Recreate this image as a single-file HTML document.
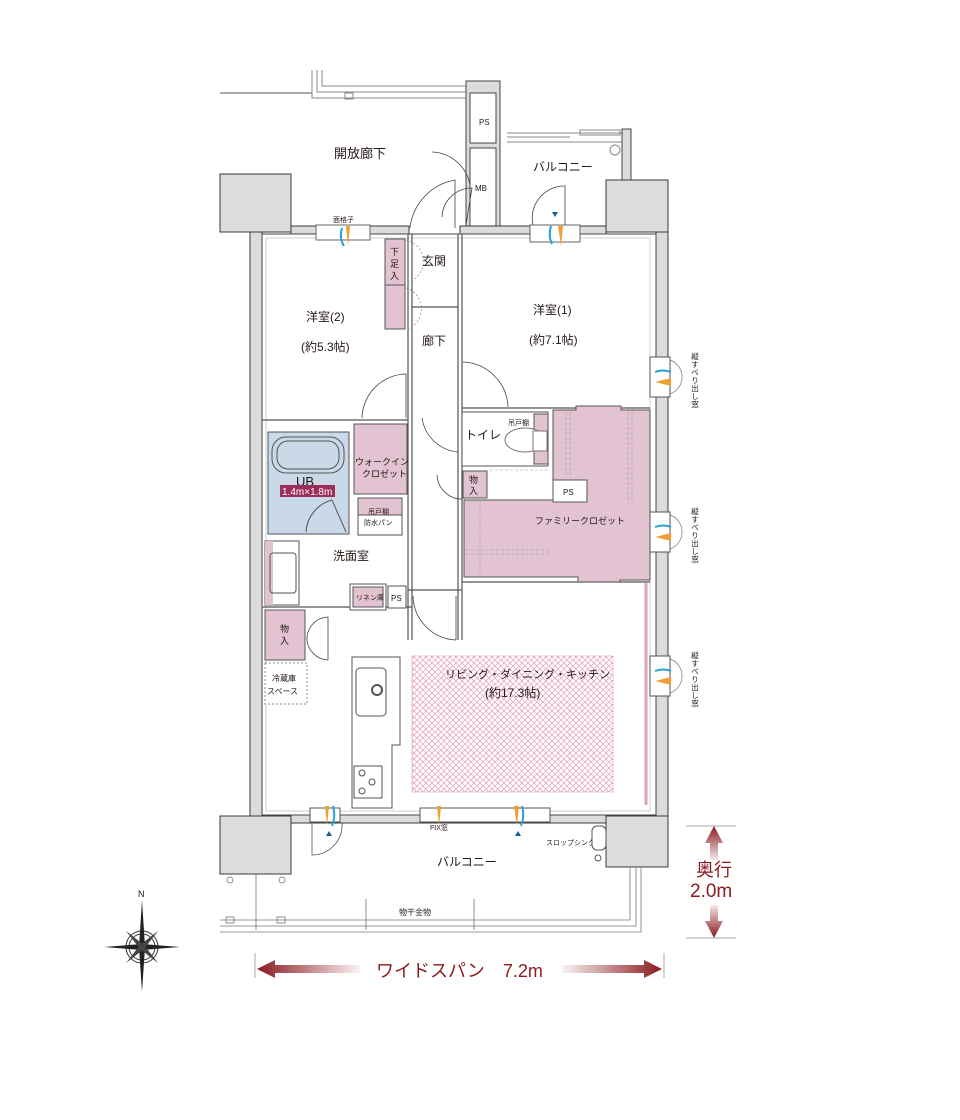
<!DOCTYPE html>
<html><head><meta charset="utf-8"><style>
html,body{margin:0;padding:0;background:#fff}
svg{display:block}
text{font-family:"Liberation Sans","Noto Sans CJK JP",sans-serif;fill:#231815}
</style></head><body>
<svg width="960" height="1120" viewBox="0 0 960 1120" xmlns="http://www.w3.org/2000/svg">
<defs>
<pattern id="hatch" width="6" height="6" patternUnits="userSpaceOnUse">
<rect width="6" height="6" fill="#fff"/>
<path d="M0 3 L3 0 L6 3 L3 6Z" fill="none" stroke="#e6a8bf" stroke-width="0.8"/>
</pattern>
<linearGradient id="gl" x1="0" x2="1"><stop offset="0" stop-color="#8b1a1f"/><stop offset="1" stop-color="#8b1a1f" stop-opacity="0.05"/></linearGradient>
<linearGradient id="gr" x1="1" x2="0"><stop offset="0" stop-color="#8b1a1f"/><stop offset="1" stop-color="#8b1a1f" stop-opacity="0.05"/></linearGradient>
<linearGradient id="gu" x1="0" y1="0" x2="0" y2="1"><stop offset="0" stop-color="#8b1a1f"/><stop offset="1" stop-color="#8b1a1f" stop-opacity="0.1"/></linearGradient>
<linearGradient id="gd" x1="0" y1="1" x2="0" y2="0"><stop offset="0" stop-color="#8b1a1f"/><stop offset="1" stop-color="#8b1a1f" stop-opacity="0.1"/></linearGradient>
</defs>

<g stroke="#888" fill="none" stroke-width="1">
<line x1="220" y1="93" x2="312" y2="93" stroke="#aaa" stroke-width="2"/>
<path d="M312 70 V98 H466"/><path d="M317 70 V92 H466"/><path d="M322 70 V86 H466"/>
<rect x="345" y="93" width="8" height="6"/>
<line x1="467" y1="150" x2="500" y2="150" stroke="#333" stroke-width="3"/>
</g>
<rect x="466" y="81" width="34" height="148" fill="#dcdcdc" stroke="#444"/>
<rect x="470" y="93" width="26" height="50" fill="#fff" stroke="#444"/>
<rect x="470" y="148" width="26" height="78" fill="#fff" stroke="#444"/>
<text x="479" y="125" font-size="8">PS</text>
<text x="475" y="191" font-size="8">MB</text>
<g stroke="#888" fill="none">
<path d="M507 133 H622 M507 137 H570 M507 142 H622"/>
<rect x="580" y="130" width="40" height="5"/>
<circle cx="615" cy="150" r="5"/>
</g>
<rect x="622" y="129" width="9" height="55" fill="#dcdcdc" stroke="#444"/>
<text x="533" y="171" font-size="12">バルコニー</text>
<text x="334" y="158" font-size="13">開放廊下</text>

<g fill="#dcdcdc" stroke="#3a3a3a" stroke-width="1">
<rect x="220" y="174" width="71" height="58"/>
<rect x="250" y="232" width="12" height="584"/>
<rect x="291" y="226" width="118" height="8"/>
<rect x="460" y="226" width="146" height="8"/>
<rect x="606" y="180" width="62" height="52"/>
<rect x="656" y="232" width="12" height="584"/>
<rect x="220" y="816" width="71" height="58"/>
<rect x="291" y="815" width="315" height="8"/>
<rect x="606" y="816" width="62" height="51"/>
</g>
<rect x="262" y="234" width="394" height="581" fill="#fff" stroke="#444"/>
<rect x="266" y="238" width="384" height="573" fill="#fff" stroke="#bbb" stroke-width="0.7"/>

<rect x="316" y="225" width="54" height="15" fill="#fff" stroke="#666"/>
<text x="333" y="222" font-size="7">面格子</text>
<rect x="530" y="225" width="50" height="17" fill="#fff" stroke="#666"/>
<g fill="none" stroke="#444" stroke-width="0.8">
<path d="M410 228 A55 55 0 0 1 455 180 V228"/>
<path d="M442 217 A30 30 0 0 1 472 188 L466 225"/>
<path d="M432 152 A40 40 0 0 1 470 185"/>
<path d="M533 225 A32 32 0 0 1 565 186 V225"/>
</g>

<g stroke="#555" fill="none" stroke-width="1.2">
<line x1="408" y1="234" x2="408" y2="640"/>
<line x1="412" y1="234" x2="412" y2="640"/>
<line x1="458" y1="234" x2="458" y2="640"/>
<line x1="462" y1="234" x2="462" y2="640"/>
<line x1="262" y1="420" x2="408" y2="420"/>
<line x1="462" y1="408" x2="650" y2="408"/>
<line x1="412" y1="307" x2="458" y2="307"/>
<line x1="262" y1="607" x2="412" y2="607"/>
<line x1="462" y1="582" x2="650" y2="582"/>
<line x1="408" y1="590" x2="462" y2="590"/>
</g>
<rect x="385" y="239" width="20" height="90" fill="#e3c3d1" stroke="#555"/>
<line x1="385" y1="285" x2="405" y2="285" stroke="#555"/>
<text x="390" y="255" font-size="9">下</text><text x="390" y="267" font-size="9">足</text><text x="390" y="279" font-size="9">入</text>
<g fill="none" stroke="#888" stroke-dasharray="2,2" stroke-width="0.7">
<path d="M406 240 A22 22 0 0 1 406 283"/><path d="M406 288 A22 22 0 0 1 406 330"/>
</g>
<text x="422" y="265" font-size="12">玄関</text>
<text x="422" y="345" font-size="12">廊下</text>

<text x="306" y="321" font-size="12">洋室(2)</text>
<text x="301" y="351" font-size="12">(約5.3帖)</text>
<text x="533" y="314" font-size="12">洋室(1)</text>
<text x="529" y="344" font-size="12">(約7.1帖)</text>
<g fill="none" stroke="#444" stroke-width="0.8">
<path d="M362 418 A45 45 0 0 1 406 374 V418"/>
<path d="M463 362 A47 47 0 0 1 508 407"/>
<path d="M422 418 A40 40 0 0 0 458 452"/>
<path d="M437 475 A25 25 0 0 0 462 499"/>
<path d="M413 596 A45 45 0 0 0 456 640 V596"/>
<path d="M307 640 A22 22 0 0 1 328 617 V640 M307 640 A22 22 0 0 0 328 660 V640"/>
</g>

<rect x="462" y="412" width="86" height="54" fill="#fff" stroke="#555"/>
<rect x="534" y="414" width="14" height="50" fill="#e3c3d1" stroke="#555"/>
<ellipse cx="525" cy="440" rx="20" ry="12" fill="#fff" stroke="#777"/>
<rect x="533" y="431" width="14" height="20" fill="#fff" stroke="#777"/>
<text x="465" y="439" font-size="12">トイレ</text>
<text x="508" y="425" font-size="7">吊戸棚</text>
<rect x="463" y="471" width="24" height="27" fill="#e3c3d1" stroke="#555"/>
<text x="469" y="483" font-size="9">物</text><text x="469" y="494" font-size="9">入</text>
<path d="M553 410 H576 V406 H621 V410 H650 V500 H650 V580 H620 V582 H578 V577 H464 V500 H553 V478 H553Z" fill="#e3c3d1" stroke="#555"/>
<rect x="553" y="480" width="34" height="22" fill="#fff" stroke="#555"/>
<text x="563" y="495" font-size="8">PS</text>
<g stroke="#999" stroke-dasharray="3,2" stroke-width="0.6" fill="none">
<line x1="566" y1="412" x2="566" y2="477"/><line x1="570" y1="412" x2="570" y2="477"/>
<line x1="628" y1="412" x2="628" y2="500"/><line x1="632" y1="412" x2="632" y2="500"/>
<line x1="466" y1="550" x2="550" y2="550"/><line x1="466" y1="554" x2="550" y2="554"/>
<line x1="490" y1="470" x2="550" y2="470"/>
<line x1="480" y1="500" x2="480" y2="577"/>
</g>
<text x="535" y="524" font-size="9">ファミリークロゼット</text>

<rect x="268" y="432" width="81" height="102" fill="#c9d9e8" stroke="#555"/>
<rect x="272" y="437" width="72" height="36" rx="14" fill="none" stroke="#555"/>
<rect x="277" y="441" width="62" height="28" rx="11" fill="none" stroke="#555"/>
<path d="M306 532 A35 35 0 0 1 332 500 L346 532" fill="none" stroke="#555"/>
<text x="296" y="486" font-size="13">UB</text>
<rect x="280" y="485" width="55" height="12" fill="#9c2e5c"/>
<text x="282" y="495" font-size="10" style="fill:#fff">1.4m×1.8m</text>
<rect x="354" y="424" width="53" height="70" fill="#e3c3d1" stroke="#555"/>
<text x="355" y="465" font-size="9">ウォークイン</text>
<text x="362" y="477" font-size="9">クロゼット</text>
<rect x="358" y="498" width="44" height="37" fill="#fff" stroke="#555"/>
<rect x="358" y="498" width="44" height="17" fill="#e3c3d1" stroke="#555"/>
<text x="368" y="514" font-size="7">吊戸棚</text>
<text x="364" y="525" font-size="7">防水パン</text>
<text x="333" y="560" font-size="12">洗面室</text>
<rect x="265" y="541" width="34" height="64" fill="#fff" stroke="#555"/>
<rect x="265" y="541" width="8" height="64" fill="#e3c3d1"/>
<rect x="270" y="553" width="26" height="40" rx="3" fill="none" stroke="#555"/>
<rect x="350" y="584" width="36" height="26" fill="#fff" stroke="#555"/>
<rect x="353" y="587" width="30" height="20" fill="#e3c3d1" stroke="#555"/>
<text x="356" y="600" font-size="7">リネン庫</text>
<rect x="388" y="586" width="18" height="22" fill="#fff" stroke="#555"/>
<text x="391" y="601" font-size="8">PS</text>
<rect x="265" y="610" width="40" height="50" fill="#e3c3d1" stroke="#555"/>
<text x="280" y="632" font-size="9">物</text><text x="280" y="644" font-size="9">入</text>
<rect x="265" y="663" width="42" height="41" fill="#fff" stroke="#888" stroke-dasharray="2,2"/>
<text x="272" y="681" font-size="8">冷蔵庫</text><text x="267" y="694" font-size="8">スペース</text>

<path d="M352 657 H400 V745 H392 V808 H352Z" fill="#fff" stroke="#555"/>
<rect x="356" y="668" width="30" height="48" rx="4" fill="#fff" stroke="#555"/>
<circle cx="377" cy="690" r="5" fill="none" stroke="#555" stroke-width="2"/>
<rect x="354" y="766" width="28" height="32" fill="#fff" stroke="#555"/>
<g fill="none" stroke="#555"><circle cx="362" cy="773" r="3"/><circle cx="372" cy="782" r="3"/><circle cx="362" cy="791" r="3"/></g>
<rect x="412" y="656" width="201" height="136" fill="url(#hatch)" stroke="#e6a8bf" stroke-dasharray="2,1"/>
<text x="445" y="678" font-size="11">リビング・ダイニング・キッチン</text>
<text x="485" y="697" font-size="12">(約17.3帖)</text>
<line x1="646" y1="583" x2="646" y2="805" stroke="#d9a3bb" stroke-width="3"/>

<g>
<rect x="650" y="357" width="20" height="40" fill="#fff" stroke="#555"/>
<rect x="650" y="512" width="20" height="40" fill="#fff" stroke="#555"/>
<rect x="650" y="656" width="20" height="40" fill="#fff" stroke="#555"/>
<path d="M655 372 q8 -3 16 0" stroke="#29a0da" stroke-width="2" fill="none"/><path d="M655 382 L671 378 V386Z" fill="#f0a030"/>
<path d="M655 527 q8 -3 16 0" stroke="#29a0da" stroke-width="2" fill="none"/><path d="M655 537 L671 533 V541Z" fill="#f0a030"/>
<path d="M655 671 q8 -3 16 0" stroke="#29a0da" stroke-width="2" fill="none"/><path d="M655 681 L671 677 V685Z" fill="#f0a030"/>
<g fill="none" stroke="#777" stroke-width="0.7"><path d="M670 360 A18 18 0 0 1 670 394"/><path d="M670 515 A18 18 0 0 1 670 549"/><path d="M670 659 A18 18 0 0 1 670 693"/></g>
<g font-size="7.5" text-anchor="middle">
<text x="695"><tspan x="695" y="359">縦</tspan><tspan x="695" y="367">す</tspan><tspan x="695" y="375">べ</tspan><tspan x="695" y="383">り</tspan><tspan x="695" y="391">出</tspan><tspan x="695" y="399">し</tspan><tspan x="695" y="407">窓</tspan></text>
<text x="695"><tspan x="695" y="514">縦</tspan><tspan x="695" y="522">す</tspan><tspan x="695" y="530">べ</tspan><tspan x="695" y="538">り</tspan><tspan x="695" y="546">出</tspan><tspan x="695" y="554">し</tspan><tspan x="695" y="562">窓</tspan></text>
<text x="695"><tspan x="695" y="658">縦</tspan><tspan x="695" y="666">す</tspan><tspan x="695" y="674">べ</tspan><tspan x="695" y="682">り</tspan><tspan x="695" y="690">出</tspan><tspan x="695" y="698">し</tspan><tspan x="695" y="706">窓</tspan></text>
</g>
</g>
<path d="M342 228 q-3 10 2 18" stroke="#29a0da" stroke-width="2" fill="none"/><path d="M346 226 L350 226 L348 246Z" fill="#f0a030"/>
<path d="M551 226 q-3 10 1 18" stroke="#29a0da" stroke-width="2" fill="none"/><path d="M558 226 L563 226 L561 246Z" fill="#f0a030"/>
<path d="M552 212 l3 5 l3 -5Z" fill="#1a5a9a"/>

<rect x="310" y="808" width="30" height="14" fill="#fff" stroke="#555"/>
<rect x="420" y="808" width="130" height="14" fill="#fff" stroke="#555"/>
<path d="M325 806 L329 806 L327 826Z" fill="#f0a030"/><path d="M333 806 q3 10 -1 20" stroke="#29a0da" stroke-width="2" fill="none"/>
<path d="M437 806 L441 806 L439 826Z" fill="#f0a030"/>
<path d="M514 806 L519 806 L517 826Z" fill="#f0a030"/><path d="M522 806 q3 10 -1 20" stroke="#29a0da" stroke-width="2" fill="none"/>
<path d="M326 836 l3 -5 l3 5Z" fill="#1a5a9a"/><path d="M515 836 l3 -5 l3 5Z" fill="#1a5a9a"/>
<path d="M312 823 V855 A30 30 0 0 0 342 823" fill="none" stroke="#555" stroke-width="0.8"/>
<text x="430" y="830" font-size="7">FIX窓</text>
<text x="437" y="866" font-size="12">バルコニー</text>
<text x="546" y="845" font-size="7">スロップシンク</text>
<rect x="592" y="826" width="14" height="24" rx="5" fill="#fff" stroke="#555"/>
<circle cx="598" cy="858" r="3" fill="none" stroke="#555"/>
<g fill="none" stroke="#777" stroke-width="0.8">
<circle cx="230" cy="880" r="3"/><circle cx="282" cy="880" r="3"/>
<line x1="256" y1="874" x2="256" y2="930"/>
<path d="M220 920 H630 V867 M220 926 H636 V867 M220 932 H641 V867"/>
<rect x="226" y="917" width="8" height="6"/><rect x="277" y="917" width="8" height="6"/>
<line x1="366" y1="899" x2="366" y2="930"/><line x1="474" y1="899" x2="474" y2="930"/>
</g>
<text x="399" y="915" font-size="8">物干金物</text>

<g transform="translate(142,947)">
<circle r="16" fill="none" stroke="#333"/><circle r="13" fill="none" stroke="#333"/>
<path d="M0 -47 L3 0 L0 45 L-3 0Z" fill="#222"/>
<path d="M-38 0 L0 -3 L38 0 L0 3Z" fill="#222"/>
<path d="M-16 -16 L2 -2 L16 16 L-2 2Z M16 -16 L2 2 L-16 16 L-2 -2Z" fill="#444"/>
</g>
<text x="138" y="897" font-size="9" font-family="Liberation Serif">N</text>

<line x1="255" y1="953" x2="255" y2="978" stroke="#aaa"/><line x1="664" y1="953" x2="664" y2="978" stroke="#aaa"/>
<path d="M257 969 L275 960 L275 965 L360 965 L360 973 L275 973 L275 978Z" fill="url(#gl)"/>
<path d="M662 969 L644 960 L644 965 L562 965 L562 973 L644 973 L644 978Z" fill="url(#gr)"/>
<text x="376" y="977" font-size="18" style="fill:#8b1a1f">ワイドスパン　7.2m</text>
<line x1="686" y1="826" x2="736" y2="826" stroke="#aaa"/><line x1="686" y1="938" x2="736" y2="938" stroke="#aaa"/>
<path d="M714 826 L705 843 L710 843 L710 860 L718 860 L718 843 L723 843Z" fill="url(#gu)"/>
<path d="M714 938 L705 921 L710 921 L710 905 L718 905 L718 921 L723 921Z" fill="url(#gd)"/>
<text x="696" y="876" font-size="18" style="fill:#8b1a1f">奥行</text>
<text x="690" y="897" font-size="19" style="fill:#8b1a1f">2.0m</text>
</svg>
</body></html>
